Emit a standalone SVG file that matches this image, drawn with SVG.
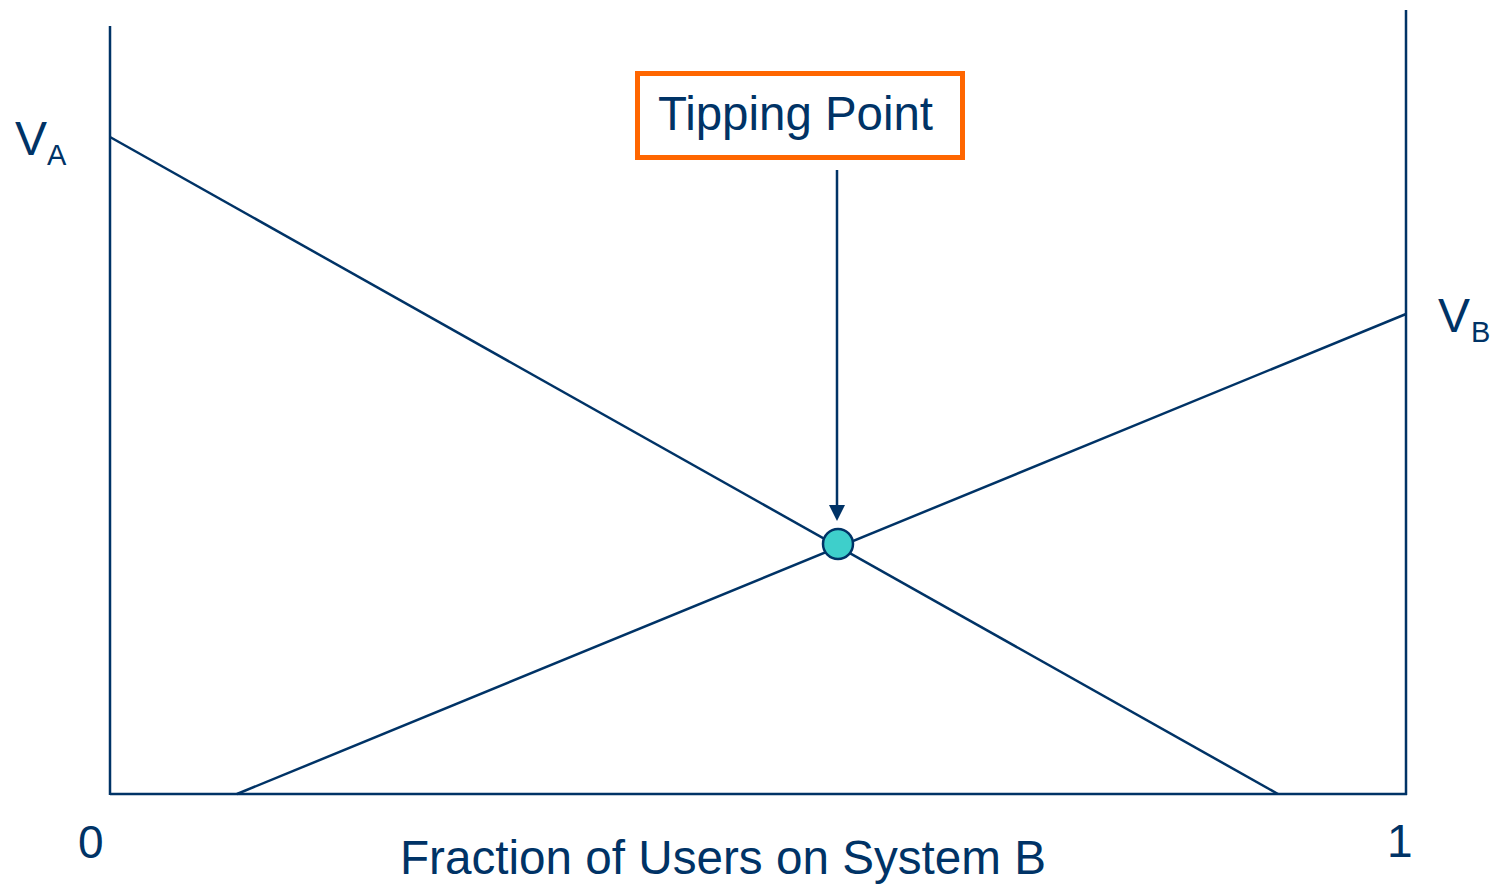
<svg xmlns="http://www.w3.org/2000/svg" width="1499" height="886" viewBox="0 0 1499 886">
<style>
.ln{stroke:#003366;stroke-width:2.5;fill:none}
.t{font-family:"Liberation Sans",Arial,sans-serif;fill:#003366}
</style>
<rect width="1499" height="886" fill="#ffffff"/>
<g id="axes">
<line class="ln" x1="110" y1="26" x2="110" y2="795"/>
<line class="ln" x1="1406" y1="10" x2="1406" y2="795"/>
<line class="ln" x1="110" y1="794" x2="1407" y2="794"/>
</g>
<g id="connectors">
<line class="ln" x1="110" y1="137" x2="1278" y2="794"/>
<line class="ln" x1="237" y1="794" x2="1406" y2="314"/>
<line class="ln" x1="837" y1="170" x2="837" y2="508"/>
<polygon points="829,505 845,505 837,521" fill="#003366"/>
</g>
<g id="tipping-point-label">
<rect x="637.5" y="73.5" width="325" height="84" fill="#ffffff" stroke="#FF6600" stroke-width="5"/>
<text class="t" x="658" y="130" font-size="48" textLength="275" lengthAdjust="spacingAndGlyphs">Tipping Point</text>
</g>
<g id="tipping-point">
<circle cx="838" cy="544" r="15" fill="#3ECFCB" stroke="#003366" stroke-width="2.5"/>
</g>
<g id="va-label">
<text class="t" x="15" y="155" font-size="48">V</text>
<text class="t" x="47" y="165" font-size="29">A</text>
</g>
<g id="vb-label">
<text class="t" x="1438" y="332" font-size="48">V</text>
<text class="t" x="1471" y="342" font-size="29">B</text>
</g>
<g id="axis-labels">
<text class="t" x="78" y="858" font-size="46">0</text>
<text class="t" x="1387" y="857" font-size="46">1</text>
<text class="t" x="400" y="874" font-size="48" textLength="646" lengthAdjust="spacingAndGlyphs">Fraction of Users on System B</text>
</g>
</svg>
